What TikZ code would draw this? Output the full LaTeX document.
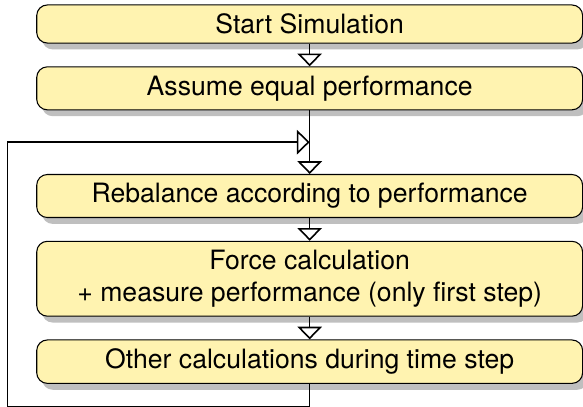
\documentclass[tikz,border=0pt]{standalone}
\usepackage{fontspec}
\setmainfont{TeX Gyre Heros}
\usetikzlibrary{positioning,arrows.meta,calc,shadows}
\definecolor{BoxYellow}{RGB}{255,243,176}

\begin{document}
\begin{tikzpicture}[x=1cm,y=1cm, every node/.style={font=\normalsize, align=center},
  stepbox/.style={draw, rounded corners, fill=BoxYellow, minimum width=7.21cm,
    drop shadow={fill=black!25, opacity=1, shadow xshift=2pt, shadow yshift=-2.4pt}},
  flow/.style={-{Triangle[open, length=4.8pt, width=9.2pt]}, line width=0.6pt}]
  \useasboundingbox (0,0) rectangle (7.70,-5.37);

  \node[stepbox] (start) at (4.09,-0.317) {Start Simulation};
  \node[stepbox, below=0.30cm of start] (assume) {Assume equal performance};
  \node[stepbox, below=0.84cm of assume] (rebal) {Rebalance according to performance};
  \node[stepbox, below=0.30cm of rebal] (force) {Force calculation\\+ measure performance (only first step)};
  \node[stepbox, below=0.30cm of force] (other) {Other calculations during time step};

  \coordinate (join) at ($(assume.south)!0.5!(rebal.north)$);
  \coordinate (back) at (0.10,0);

  \draw[flow] (start) -- (assume);
  \draw[flow] (assume) -- (rebal);
  \draw[flow] (rebal) -- (force);
  \draw[flow] (force) -- (other);
  \draw[flow] (other.south) -- ++(0,-0.305) -| (back |- join) -- (join);
\end{tikzpicture}
\end{document}
